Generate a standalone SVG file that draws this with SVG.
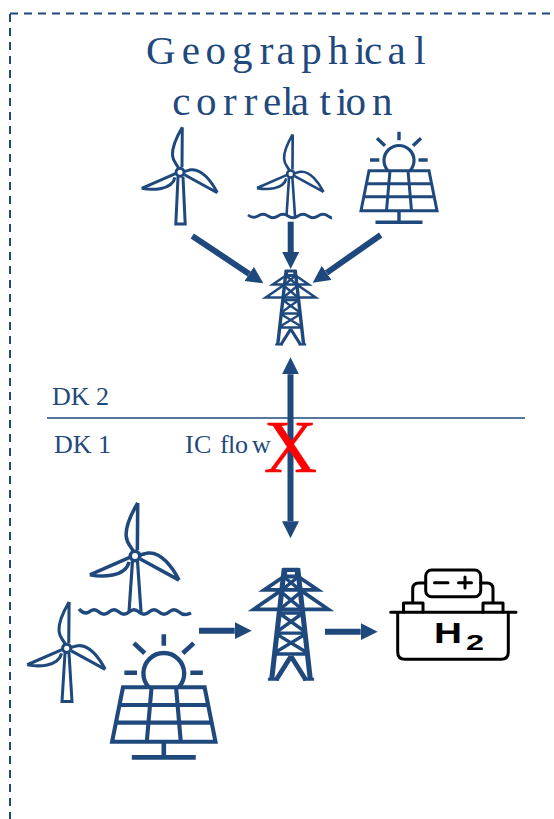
<svg xmlns="http://www.w3.org/2000/svg" width="554" height="819" viewBox="0 0 554 819">
<style>
.ic{fill:none;stroke:#1f497d;stroke-linejoin:miter}
.t{font-family:"Liberation Serif","Times New Roman",serif;fill:#1f497d}
.arr{stroke:#1f497d;stroke-width:6;fill:none}
.blk{fill:none;stroke:#000;stroke-width:3;stroke-linecap:round;stroke-linejoin:round}
.h2{font-family:"Liberation Sans",Arial,sans-serif;font-weight:700;fill:#000}
.dash{fill:none;stroke:#1f497d;stroke-width:2;stroke-dasharray:8 6}
</style>
<defs>
<marker id="head" markerUnits="userSpaceOnUse" markerWidth="18" markerHeight="18" refX="0" refY="9" orient="auto-start-reverse"><path d="M0,0.5 L17,9 L0,17.5z" fill="#1f497d"/></marker>
<symbol id="blades" overflow="visible">
<g class="ic" stroke-width="3">
<circle cx="0" cy="0" r="4"/>
<path d="M2.3,-45 L2,-5 M2.3,-45 C-3,-36 -8,-25 -7.5,-17 C-7,-10 -3,-8 -1.5,-4"/>
<path d="M-38.3,16 L-4,1 M-38.3,16 C-28,18 -8,18 -5,5"/>
<path d="M37.3,20.4 L4.5,2.5 M37.3,20.4 C32,10 22,-4 11,-2.5 C8,-2 6,-1 4,-1"/>
</g>
</symbol>
<symbol id="panel" overflow="visible">
<g class="ic" stroke-width="3">
<path d="M-30,0 H30 L38,40 H-38Z M-33.5,13 H33.5 M-35.8,26 H35.8 M-9,0 L-12.5,40 M9,0 L12.5,40"/>
<path d="M0,40 V51 M-23.5,51.5 H23.5" stroke-width="3.4"/>
<path d="M-11,0 A15,15 0 1 1 11,0" stroke-width="3.2"/>
<path d="M0,-39 V-30.5 M-22,-32.5 L-14,-25 M22,-32.5 L14,-25 M-29,-10.7 H-19.7 M19.5,-10.7 H28.7" stroke-width="3.4"/>
</g>
</symbol>
<symbol id="pylon" overflow="visible">
<g class="ic" stroke-width="2.5">
<path d="M-4,1 H4 V5.500 H-4Z" stroke-width="2.800"/>
<path d="M-4.500,0 L-13,75 M4.500,0 L13,75" stroke-width="3.400"/>
<path d="M-4,5 L-18,14.500 H18 L4,5 M-6,14.500 L-25,27.500 H25 L6,14.500"/>
<path d="M-4.500,6 L6,14.500 M4.500,6 L-6,14.500 M-6.500,16 L8,28 M6.500,16 L-8,28 M-8,30 H8 M-8,30 L10,43 M8,30 L-10,43 M-10,43.500 H10 M-10,44 L11.500,57 M10,44 L-11.500,57 M-11.500,57.500 H11.500" stroke-width="2.300"/>
<path d="M0,59 L-10,75 M0,59 L10,75" stroke-width="3.200"/>
<path d="M-15.500,74.500 H-8 M15.500,74.500 H8" stroke-width="2"/>
</g>
</symbol>
</defs>

<g id="frame"><path class="dash" d="M10,13.500 H554"/><path class="dash" d="M10,14 V819"/></g>

<g id="title" class="t" font-size="41">
<text x="146 181.700 205.500 232 259.800 276.400 301.300 327.900 354.200 364 387.400 414.200" y="64">Geographical</text>
<text x="172.300 196 223 243.800 263 282 290.700 319.500 335.900 345.500 372" y="114.500">correlation</text>
</g>

<g id="turbine-dk2-land"><use href="#blades" transform="translate(180,172.300)"/><path class="ic" stroke-width="3" d="M178,177 L175.800,224 H185.200 L183,177"/></g>
<g id="turbine-dk2-sea"><use href="#blades" transform="translate(290.700,174) scale(.88)"/>
<path class="ic" stroke-width="2.600" d="M289,178 L286.500,216 M292.400,178 L295,216"/>
<path class="ic" stroke-width="2.800" d="M248,215 q5,4 10,1 q5,-3.500 10,0 q5,3.500 10,0 q5,-3.500 10,0 q5,3.500 10,0 q5,-3.500 10,0 q5,3.500 10,0 q5,-3.500 10,0 q3,2 4,2"/></g>
<g id="solar-dk2"><use href="#panel" transform="translate(399,170.700)"/></g>
<g id="pylon-dk2"><use href="#pylon" transform="translate(290.700,270)"/></g>

<g id="turbine-dk1-sea"><use href="#blades" transform="translate(135,556) scale(1.18)"/>
<path class="ic" stroke-width="3.200" d="M132.500,561 L129,612 M137.500,561 L141,612"/>
<path class="ic" stroke-width="3.500" d="M79,609 q5,6 10,3 q5,-4.500 10,0 q5,4.500 10,0 q5,-4.500 10,0 q5,4.500 10,0 q5,-4.500 10,0 q5,4.500 10,0 q5,-4.500 10,0 q5,4.500 10,0 q5,-4.500 10,0 q5,4.500 12,1"/></g>
<g id="turbine-dk1-land"><use href="#blades" transform="translate(66.700,648.300) scale(1.03)"/><path class="ic" stroke-width="3" d="M65,653 L62,701.500 H72 L69,653"/></g>
<g id="solar-dk1"><use href="#panel" transform="translate(163.800,687.300) scale(1.36)"/></g>
<g id="pylon-dk1"><use href="#pylon" transform="translate(291,568.300) scale(1.49)"/></g>

<g id="battery">
<path class="blk" d="M390.700,612.300 H516 M397.700,612.300 V652 Q397.700,659.300 405,659.300 H501 Q508.300,659.300 508.300,652 V612.300"/>
<path class="blk" d="M403.500,612 V603 H423 V612 M483,612 V603 H503 V612 M412.700,603 V589 Q412.700,583 419,583 H425.700 M493,603 V589 Q493,583 487,583 H480.700"/>
<rect class="blk" x="425.700" y="570" width="55" height="26.700" rx="6"/>
<path class="blk" d="M434.500,582.700 H448 M458.500,582.700 H471.500 M465,577 V588"/>
<text class="h2" font-size="30" y="643.300" x="434" textLength="28" lengthAdjust="spacingAndGlyphs">H</text>
<text class="h2" font-size="22" y="650" x="466" textLength="18" lengthAdjust="spacingAndGlyphs">2</text>
</g>

<g id="labels" class="t" font-size="26">
<text x="52" y="405">DK 2</text>
<text x="54" y="453">DK 1</text>
<text x="185 194 211 220 228 235 252" y="453">IC flow</text>
</g>
<line id="border" x1="47" y1="418" x2="525" y2="418" stroke="#1f497d" stroke-width="1.500"/>

<g id="connectors">
<path class="arr" d="M192.300,236 L249.200,273.900" marker-end="url(#head)"/>
<path class="arr" d="M290.700,221.700 V252" marker-end="url(#head)"/>
<path class="arr" d="M380.700,235 L326.600,272.900" marker-end="url(#head)"/>
<path class="arr" d="M290.500,374.300 V521.300" marker-start="url(#head)" marker-end="url(#head)"/>
<path class="arr" d="M199,630.700 H234.700" marker-end="url(#head)"/>
<path class="arr" d="M325,631.700 H360.700" marker-end="url(#head)"/>
</g>
<text id="cross" x="290.500" y="471.500" font-family="'Liberation Serif',serif" font-size="74" fill="#f00" stroke="#f00" stroke-width=".4" text-anchor="middle">X</text>
</svg>
